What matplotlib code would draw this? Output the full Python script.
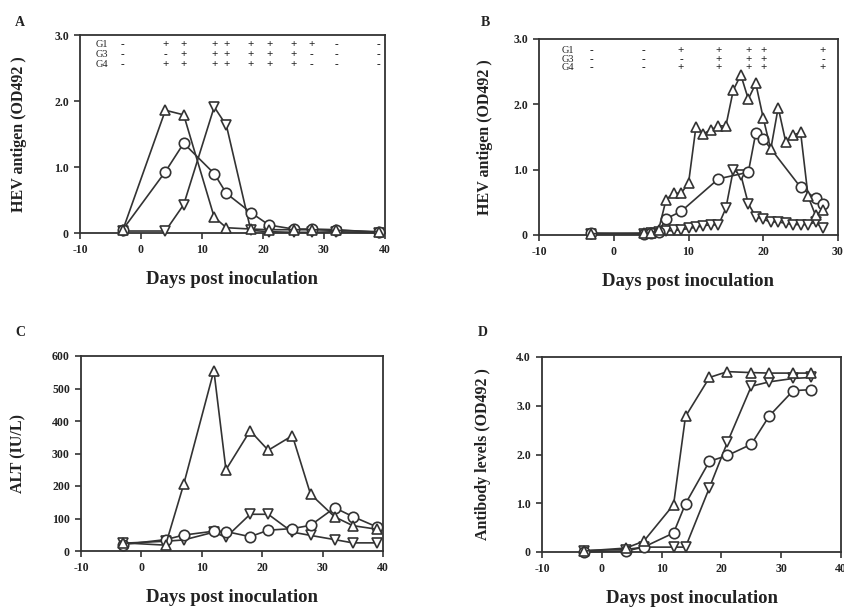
import matplotlib
matplotlib.use("Agg")
import matplotlib.pyplot as plt
from matplotlib.transforms import blended_transform_factory

plt.rcParams['font.family'] = ['Liberation Serif', 'DejaVu Serif']
plt.rcParams['font.weight'] = 'bold'

# ---------------- Panel A: HEV antigen ----------------
a_days = [-3, 4, 7, 12, 14, 18, 21, 25, 28, 32, 39]
a_tri_up = [0.04, 1.86, 1.79, 0.24, 0.08, 0.06, 0.05, 0.05, 0.05, 0.04, 0.02]
a_circle = [0.05, 0.93, 1.36, 0.90, 0.60, 0.31, 0.12, 0.06, 0.06, 0.05, 0.01]
a_tri_down = [0.03, 0.03, 0.43, 1.91, 1.63, 0.04, 0.02, 0.01, 0.01, 0.02, 0.00]
a_groups = ['G1', 'G3', 'G4']
a_signs = {
    'G1': ['-', '+', '+', '+', '+', '+', '+', '+', '+', '-', '-'],
    'G3': ['-', '-', '+', '+', '+', '+', '+', '+', '-', '-', '-'],
    'G4': ['-', '+', '+', '+', '+', '+', '+', '+', '-', '-', '-'],
}

# ---------------- Panel B: HEV antigen ----------------
b_tri_days = [-3, 4, 5, 6, 7, 8, 9, 10, 11, 12, 13, 14, 15, 16, 17, 18, 19, 20,
              21, 22, 23, 24, 25, 26, 27, 28]
b_tri_up = [0.02, 0.03, 0.03, 0.08, 0.54, 0.64, 0.64, 0.79, 1.66, 1.55, 1.61,
            1.67, 1.67, 2.22, 2.45, 2.08, 2.32, 1.79, 1.31, 1.95, 1.43, 1.53,
            1.57, 0.59, 0.30, 0.38]
b_circle_days = [-3, 4, 5, 6, 7, 9, 14, 18, 19, 20, 25, 27, 28]
b_circle = [0.03, 0.02, 0.03, 0.05, 0.25, 0.36, 0.86, 0.96, 1.56, 1.47, 0.73,
            0.56, 0.48]
b_tri_down = [0.02, 0.02, 0.03, 0.05, 0.06, 0.07, 0.08, 0.10, 0.12, 0.14, 0.16,
              0.15, 0.41, 1.00, 0.92, 0.48, 0.28, 0.24, 0.20, 0.20, 0.18, 0.16,
              0.16, 0.16, 0.20, 0.10]
b_sign_days = [-3, 4, 9, 14, 18, 20, 28]
b_signs = {
    'G1': ['-', '-', '+', '+', '+', '+', '+'],
    'G3': ['-', '-', '-', '+', '+', '+', '-'],
    'G4': ['-', '-', '+', '+', '+', '+', '+'],
}

# ---------------- Panel C: ALT ----------------
c_days = [-3, 4, 7, 12, 14, 18, 21, 25, 28, 32, 35, 39]
c_tri_up = [25, 18, 205, 555, 250, 370, 310, 355, 175, 105, 78, 67]
c_circle = [20, 35, 49, 61, 60, 44, 64, 69, 79, 133, 106, 74]
c_tri_down = [24, 30, 34, 58, 42, 113, 113, 58, 48, 35, 25, 25]

# ---------------- Panel D: Antibody ----------------
d_days = [-3, 4, 7, 12, 14, 18, 21, 25, 28, 32, 35]
d_tri_up = [0.02, 0.08, 0.22, 0.97, 2.78, 3.58, 3.70, 3.68, 3.67, 3.67, 3.67]
d_circle = [0.00, 0.02, 0.10, 0.39, 0.99, 1.86, 1.98, 2.21, 2.79, 3.31, 3.33]
d_tri_down = [0.03, 0.05, 0.10, 0.10, 0.10, 1.32, 2.25, 3.40, 3.49, 3.56, 3.58]

LC = '#333333'
TC = '#222222'
fig = plt.figure(figsize=(8.44, 6.13), dpi=100)
W, H = 844.0, 613.0


def make_ax(x0, x1, y0, y1):
    return fig.add_axes([x0 / W, 1 - y1 / H, (x1 - x0) / W, (y1 - y0) / H])


def style(ax, xlim, ylim, yticks, ylabels, ylabel, xticks, xlabels, ylabx):
    ax.set_xlim(*xlim)
    ax.set_ylim(*ylim)
    ax.set_yticks(yticks)
    ax.set_yticklabels(ylabels)
    ax.set_xticks(xticks)
    ax.set_xticklabels(xlabels)
    for s in ax.spines.values():
        s.set_color(LC)
        s.set_linewidth(1.3)
    ax.tick_params(direction='out', length=4, width=1.2, color=LC,
                   labelsize=8.5, pad=4, labelcolor=TC)
    for lab in ax.get_xticklabels() + ax.get_yticklabels():
        lab.set_fontweight('bold')
    ax.set_xlabel('Days post inoculation', fontsize=13.5, fontweight='bold',
                  color=TC, labelpad=11)
    ax.set_ylabel(ylabel, fontsize=11.5, fontweight='bold', color=TC)
    ax.yaxis.set_label_coords(ylabx / W, 0.5,
                              transform=blended_transform_factory(
                                  fig.transFigure, ax.transAxes))
    ax.yaxis.label.set_va('center')


def series(ax, x, y, marker, ms=7.5):
    ax.plot(x, y, color=LC, lw=1.2, marker=marker, ms=ms, mfc='white',
            mec=LC, mew=1.2, clip_on=False, zorder=3)


# Panel A
axA = make_ax(80, 385, 35, 233)
style(axA, (-10, 40), (0, 3.0), [0, 1, 2, 3], ['0', '1.0', '2.0', '3.0'],
      'HEV antigen (OD492 )', [-10, 0, 10, 20, 30, 40],
      ['-10', '0', '10', '20', '30', '40'], 19)
series(axA, a_days, a_tri_down, 'v')
series(axA, a_days, a_circle, 'o')
series(axA, a_days, a_tri_up, '^')
row_y = [2.85, 2.70, 2.55]
for g, yy in zip(a_groups, row_y):
    axA.text(-6.4, yy, g, fontsize=7.5, ha='center', va='center', color=TC,
             fontweight='normal')
    for d, s in zip(a_days, a_signs[g]):
        axA.text(d, yy, s, fontsize=8, ha='center', va='center', color=TC)

# Panel B
axB = make_ax(539, 838, 39, 235)
style(axB, (-10, 30), (0, 3.0), [0, 1, 2, 3], ['0', '1.0', '2.0', '3.0'],
      'HEV antigen (OD492 )', [-10, 0, 10, 20, 30],
      ['-10', '0', '10', '20', '30'], 485)
series(axB, b_tri_days, b_tri_down, 'v', ms=6.5)
series(axB, b_circle_days, b_circle, 'o')
series(axB, b_tri_days, b_tri_up, '^', ms=6.5)
row_yb = [2.83, 2.69, 2.56]
for g, yy in zip(a_groups, row_yb):
    axB.text(-6.1, yy, g, fontsize=7.5, ha='center', va='center', color=TC,
             fontweight='normal')
    for d, s in zip(b_sign_days, b_signs[g]):
        axB.text(d, yy, s, fontsize=8, ha='center', va='center', color=TC)

# Panel C
axC = make_ax(81, 383, 356, 551)
style(axC, (-10, 40), (0, 600), [0, 100, 200, 300, 400, 500, 600],
      ['0', '100', '200', '300', '400', '500', '600'], 'ALT (IU/L)',
      [-10, 0, 10, 20, 30, 40], ['-10', '0', '10', '20', '30', '40'], 18)
series(axC, c_days, c_tri_down, 'v')
series(axC, c_days, c_circle, 'o')
series(axC, c_days, c_tri_up, '^')

# Panel D
axD = make_ax(542, 841, 357, 552)
style(axD, (-10, 40), (0, 4.0), [0, 1, 2, 3, 4],
      ['0', '1.0', '2.0', '3.0', '4.0'], 'Antibody levels (OD492 )',
      [-10, 0, 10, 20, 30, 40], ['-10', '0', '10', '20', '30', '40'], 483)
series(axD, d_days, d_tri_down, 'v')
series(axD, d_days, d_circle, 'o')
series(axD, d_days, d_tri_up, '^')

# Panel letters
for lab, (x, y) in zip('ABCD', [(20, 23), (485, 23), (20, 332), (483, 332)]):
    fig.text(x / W, 1 - y / H, lab, fontsize=10, fontweight='bold',
             ha='center', va='center', color=TC)

fig.savefig('out.png', dpi=100)
